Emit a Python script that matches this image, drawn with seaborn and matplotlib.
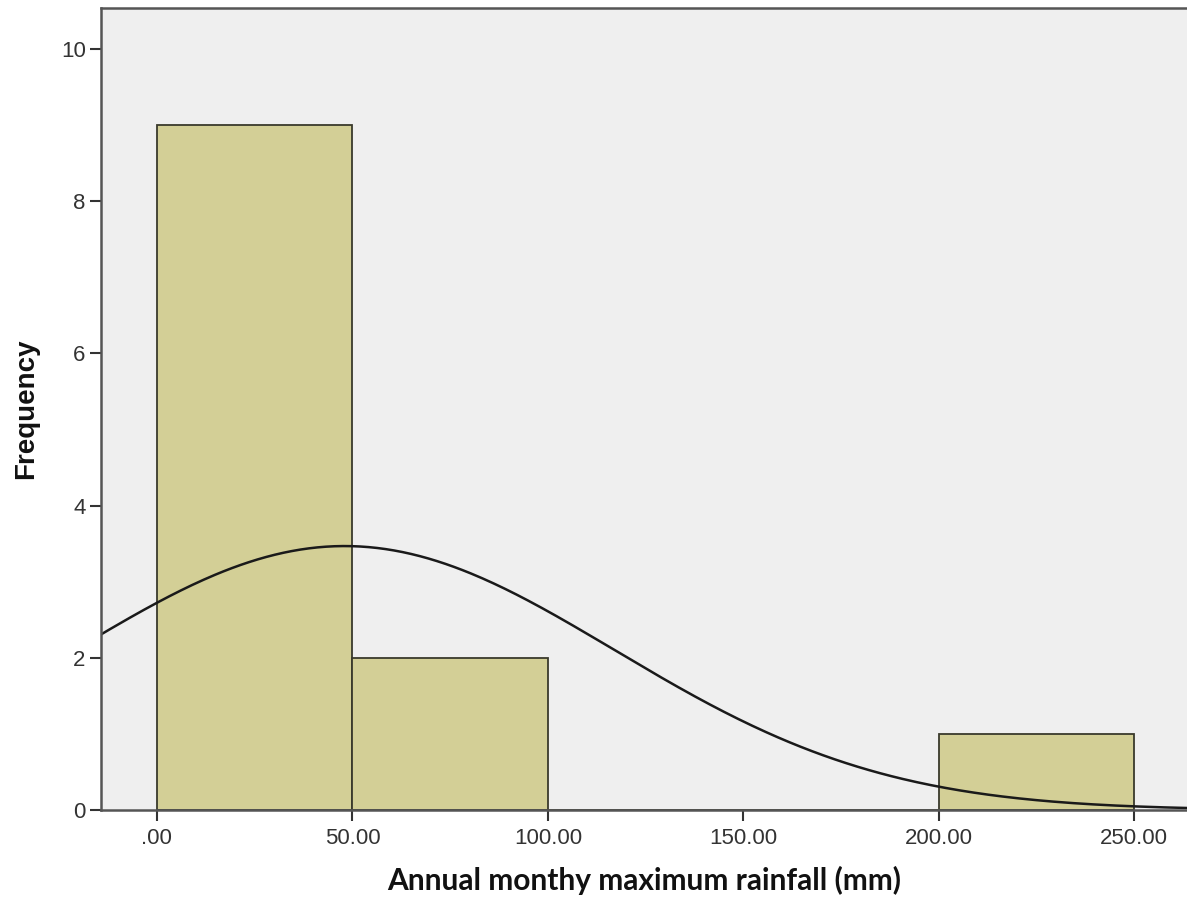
import numpy as np
import pandas as pd
import seaborn as sns
import matplotlib
matplotlib.use("Agg")
import matplotlib.pyplot as plt

# Data
bin_edges = [0, 50, 100, 150, 200, 250]
bin_centers = [25, 75, 125, 175, 225]
counts = [9, 2, 0, 0, 1]
x_ticks = [0, 50, 100, 150, 200, 250]
x_tick_labels = [".00", "50.00", "100.00", "150.00", "200.00", "250.00"]
y_ticks = [0, 2, 4, 6, 8, 10]
fit_mean = 48.0   # fitted normal curve parameters
fit_sd = 69.0
n_total = sum(counts)
bin_width = 50

sns.set_theme(style="white")
plt.rcParams['font.family'] = ['Liberation Sans', 'DejaVu Sans']

fig = plt.figure(figsize=(11.87, 8.98), dpi=100)
ax = fig.add_axes([0.0851, 0.098, 0.915, 0.893])
ax.set_facecolor("#EFEFEF")

df = pd.DataFrame({"center": bin_centers, "count": counts})
sns.histplot(data=df, x="center", weights="count", bins=bin_edges, ax=ax,
             color="#D3CF96", alpha=1.0, edgecolor="#3A3A2C", linewidth=1.3)

xs = np.linspace(-20, 270, 400)
ys = n_total * bin_width / (fit_sd * np.sqrt(2 * np.pi)) * np.exp(-0.5 * ((xs - fit_mean) / fit_sd) ** 2)
sns.lineplot(x=xs, y=ys, ax=ax, color="#1A1A1A", linewidth=1.8)

ax.set_xlim(-14.3, 263.5)
ax.set_ylim(0, 10.54)
ax.set_xticks(x_ticks)
ax.set_xticklabels(x_tick_labels)
ax.set_yticks(y_ticks)
ax.tick_params(axis="both", which="major", direction="out", length=8, width=1.5,
               color="#333333", labelsize=16, labelcolor="#333333", pad=4, bottom=True, left=True)
ax.tick_params(axis="y", pad=3)
ax.tick_params(axis="x", pad=5)
for s in ["left", "top", "bottom"]:
    ax.spines[s].set_visible(True)
    ax.spines[s].set_color("#555555")
    ax.spines[s].set_linewidth(1.8)
ax.spines["right"].set_visible(False)

ax.set_xlabel("Annual monthy maximum rainfall (mm)", fontsize=21.5, fontweight="bold",
              family=["Lato", "DejaVu Sans"], color="#111111", labelpad=12)
ax.set_ylabel("Frequency", fontsize=20, fontweight="bold", color="#111111", labelpad=16)

fig.savefig("out.png", dpi=100)
